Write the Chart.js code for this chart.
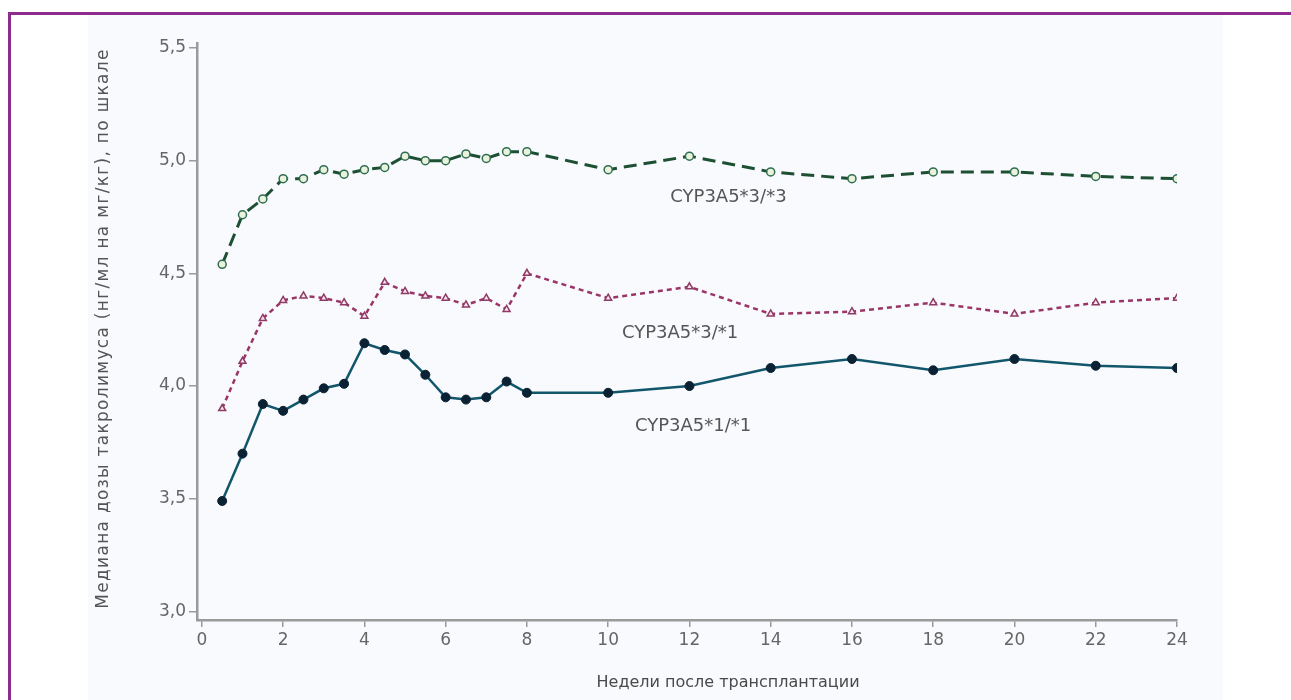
<!DOCTYPE html>
<html lang="ru">
<head>
<meta charset="utf-8">
<title>CYP3A5 — доза такролимуса</title>
<script src="https://cdn.jsdelivr.net/npm/chart.js@4.4.1/dist/chart.umd.min.js"></script>
<style>
    html, body { margin: 0; padding: 0; background: #ffffff; }
    #frame {
        position: absolute; left: 8px; top: 12px; width: 1283px; height: 688px;
        border-top: 3px solid #8d2b8f; border-left: 3px solid #8d2b8f;
        box-sizing: border-box;
    }
    #panel {
        position: absolute; left: 88px; top: 15px; width: 1135px; height: 685px;
        background: #f8fafd;
    }
    #wrap { position: absolute; left: 0; top: 0; width: 1291px; height: 700px; }
</style>
</head>
<body>
<div id="frame"></div>
<div id="panel"></div>
<div id="wrap"><canvas id="chart" width="1291" height="700"></canvas></div>
<script>
document.addEventListener('DOMContentLoaded', function() {
    // недели после трансплантации
    const weeks = [0.5, 1, 1.5, 2, 2.5, 3, 3.5, 4, 4.5, 5, 5.5, 6, 6.5, 7, 7.5, 8, 10, 12, 14, 16, 18, 20, 22, 24];

    // медиана дозы по генотипам
    const cyp33 = [4.54, 4.76, 4.83, 4.92, 4.92, 4.96, 4.94, 4.96, 4.97, 5.02, 5.00, 5.00, 5.03, 5.01, 5.04, 5.04, 4.96, 5.02, 4.95, 4.92, 4.95, 4.95, 4.93, 4.92];
    const cyp31 = [3.90, 4.11, 4.30, 4.38, 4.40, 4.39, 4.37, 4.31, 4.46, 4.42, 4.40, 4.39, 4.36, 4.39, 4.34, 4.50, 4.39, 4.44, 4.32, 4.33, 4.37, 4.32, 4.37, 4.39];
    const cyp11 = [3.49, 3.70, 3.92, 3.89, 3.94, 3.99, 4.01, 4.19, 4.16, 4.14, 4.05, 3.95, 3.94, 3.95, 4.02, 3.97, 3.97, 4.00, 4.08, 4.12, 4.07, 4.12, 4.09, 4.08];

    const seriesNames = ['CYP3A5*3/*3', 'CYP3A5*3/*1', 'CYP3A5*1/*1'];

    const xTicks = [0, 2, 4, 6, 8, 10, 12, 14, 16, 18, 20, 22, 24];
    const yTicks = [3.0, 3.5, 4.0, 4.5, 5.0, 5.5];

    const xTitle = 'Недели после трансплантации';
    const yTitle = 'Медиана дозы такролимуса (нг/мл на мг/кг), по шкале';

    const textColor = '#555555';
    const axisColor = '#9a9a9a';
    const fontFamily = '"DejaVu Sans", sans-serif';

    function toPoints(values) {
        return weeks.map((w, i) => ({ x: w, y: values[i] }));
    }

    // подписи кривых и названия осей рисуем сами
    const curveLabels = {
        id: 'curveLabels',
        afterDatasetsDraw(chart) {
            const ctx = chart.ctx;
            const xs = chart.scales.x;
            const ys = chart.scales.y;
            const spots = [
                { text: seriesNames[0], x: 12.96, y: 4.836 },
                { text: seriesNames[1], x: 11.77, y: 4.236 },
                { text: seriesNames[2], x: 12.09, y: 3.822 }
            ];
            ctx.save();
            ctx.font = '18px ' + fontFamily;
            ctx.fillStyle = textColor;
            ctx.textAlign = 'center';
            ctx.textBaseline = 'middle';
            spots.forEach(s => {
                ctx.fillText(s.text, xs.getPixelForValue(s.x), ys.getPixelForValue(s.y));
            });

            // подпись оси X (в оригинале сдвинута вправо)
            ctx.font = '16px ' + fontFamily;
            ctx.fillStyle = '#4a4a4a';
            ctx.fillText(xTitle, xs.getPixelForValue(12.95), 683);

            // подпись оси Y, чуть разреженная
            ctx.translate(104, (ys.top + ys.bottom) / 2 - 3);
            ctx.rotate(-Math.PI / 2);
            ctx.font = '17px ' + fontFamily;
            ctx.fillStyle = textColor;
            ctx.letterSpacing = '1.3px';
            ctx.fillText(yTitle, 0, 0);
            ctx.restore();
        }
    };

    new Chart(document.getElementById('chart'), {
        type: 'line',
        data: {
            datasets: [
                {
                    label: seriesNames[0],
                    data: toPoints(cyp33),
                    borderColor: '#1d4f33',
                    borderWidth: 3,
                    borderDash: [13, 7],
                    pointStyle: 'circle',
                    pointRadius: 4,
                    pointBorderWidth: 1.5,
                    pointBorderColor: '#2f6d50',
                    pointBackgroundColor: '#e9f2dc',
                    tension: 0
                },
                {
                    label: seriesNames[1],
                    data: toPoints(cyp31),
                    borderColor: '#9a3567',
                    borderWidth: 2.5,
                    borderDash: [5, 4],
                    pointStyle: 'triangle',
                    pointRadius: 4,
                    pointBorderWidth: 1.5,
                    pointBorderColor: '#8e3a66',
                    pointBackgroundColor: '#f6e4ee',
                    tension: 0
                },
                {
                    label: seriesNames[2],
                    data: toPoints(cyp11),
                    borderColor: '#12566b',
                    borderWidth: 2.5,
                    pointStyle: 'circle',
                    pointRadius: 4.5,
                    pointBorderWidth: 1,
                    pointBorderColor: '#0a2233',
                    pointBackgroundColor: '#0a2233',
                    tension: 0
                }
            ]
        },
        options: {
            responsive: false,
            animation: false,
            layout: {
                padding: { top: 43, right: 114, bottom: 0, left: 88 }
            },
            plugins: {
                legend: { display: false },
                tooltip: { enabled: false }
            },
            scales: {
                x: {
                    type: 'linear',
                    min: -0.12,
                    max: 24,
                    afterBuildTicks: scale => { scale.ticks = xTicks.map(v => ({ value: v })); },
                    afterFit: scale => { scale.height = 80; },
                    border: { color: axisColor, width: 2.5 },
                    grid: { drawOnChartArea: false, drawTicks: true, tickLength: 7, color: axisColor, lineWidth: 1.5 },
                    ticks: {
                        color: '#666666',
                        font: { family: fontFamily, size: 17 },
                        padding: 3,
                        maxRotation: 0,
                        callback: v => String(v)
                    },
                    title: { display: false }
                },
                y: {
                    min: 2.962,
                    max: 5.522,
                    afterBuildTicks: scale => { scale.ticks = yTicks.map(v => ({ value: v })); },
                    afterFit: scale => { scale.width = 109; },
                    border: { color: axisColor, width: 2.5 },
                    grid: { drawOnChartArea: false, drawTicks: true, tickLength: 8, color: axisColor, lineWidth: 1.5 },
                    ticks: {
                        color: '#666666',
                        font: { family: fontFamily, size: 17 },
                        padding: 3,
                        callback: v => v.toFixed(1).replace('.', ',')
                    },
                    title: { display: false }
                }
            }
        },
        plugins: [curveLabels]
    });
});
</script>
</body>
</html>
